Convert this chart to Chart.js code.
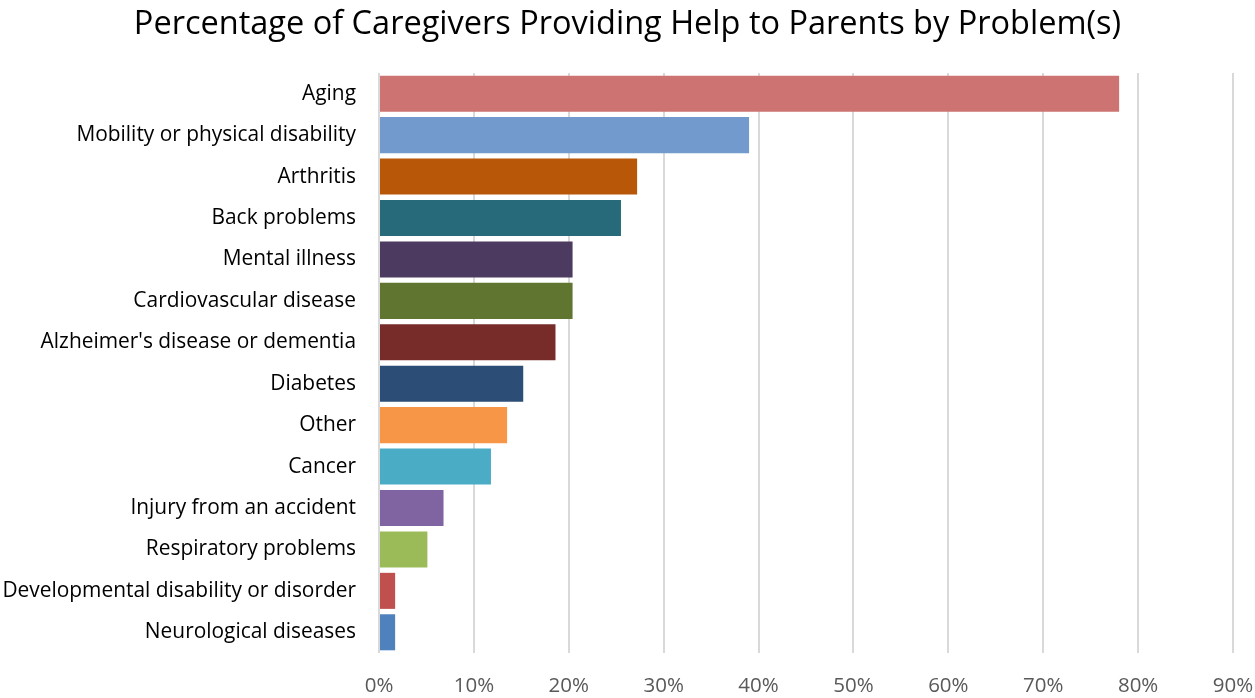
<!DOCTYPE html>
<html>
<head>
<meta charset="utf-8">
<script src="https://cdn.jsdelivr.net/npm/chart.js@4"></script>
<style>
  html, body { margin: 0; padding: 0; background: #fff; }
  #wrap { width: 1255px; height: 698px; }
</style>
</head>
<body>
<div id="wrap"><canvas id="chart"></canvas></div>
<script>
const categories = [
  "Aging",
  "Mobility or physical disability",
  "Arthritis",
  "Back problems",
  "Mental illness",
  "Cardiovascular disease",
  "Alzheimer's disease or dementia",
  "Diabetes",
  "Other",
  "Cancer",
  "Injury from an accident",
  "Respiratory problems",
  "Developmental disability or disorder",
  "Neurological diseases"
];
const percentages = [0.78, 0.39, 0.272, 0.255, 0.204, 0.204, 0.186, 0.152, 0.135, 0.118, 0.068, 0.051, 0.017, 0.017];
const barColors = [
  "#CD7371", "#729ACD", "#B85707", "#276A7A", "#4D3A60", "#5F7530", "#772C2A",
  "#2C4D75", "#F79646", "#4BACC6", "#8064A2", "#9BBB59", "#C0504D", "#4F81BD"
];
const xTicks = [0, 0.1, 0.2, 0.3, 0.4, 0.5, 0.6, 0.7, 0.8, 0.9];

const FONT = "'Open Sans', 'Liberation Sans', sans-serif";

new Chart(document.getElementById('chart'), {
  type: 'bar',
  data: {
    labels: categories,
    datasets: [{
      data: percentages,
      backgroundColor: barColors,
      borderWidth: 0,
      barPercentage: 0.87,
      categoryPercentage: 1.0
    }]
  },
  options: {
    indexAxis: 'y',
    responsive: true,
    maintainAspectRatio: false,
    animation: false,
    layout: { padding: 0 },
    plugins: {
      legend: { display: false },
      tooltip: { enabled: false },
      title: {
        display: true,
        text: 'Percentage of Caregivers Providing Help to Parents by Problem(s)',
        color: '#000',
        font: { family: FONT, size: 32.5, weight: 'normal' },
        padding: { top: 5, bottom: 29 }
      }
    },
    scales: {
      x: {
        min: 0,
        max: 0.9,
        afterBuildTicks: (scale) => { scale.ticks = xTicks.map(v => ({ value: v })); },
        afterFit: (scale) => {
          scale.height = 45;
          // keep the plot's right edge where the reference has it
          scale.paddingRight = 22;
        },
        grid: { color: '#D9D9D9', lineWidth: 2, drawTicks: false },
        border: { display: false },
        ticks: {
          color: '#595959',
          padding: 21,
          font: { family: FONT, size: 20.5 },
          callback: (v) => Math.round(v * 100) + '%'
        }
      },
      y: {
        afterFit: (scale) => { scale.width = 379; },
        grid: { display: false, drawTicks: false },
        border: { display: false },
        ticks: {
          color: '#000',
          padding: 23,
          font: { family: FONT, size: 20.9 }
        }
      }
    }
  }
});
</script>
</body>
</html>
